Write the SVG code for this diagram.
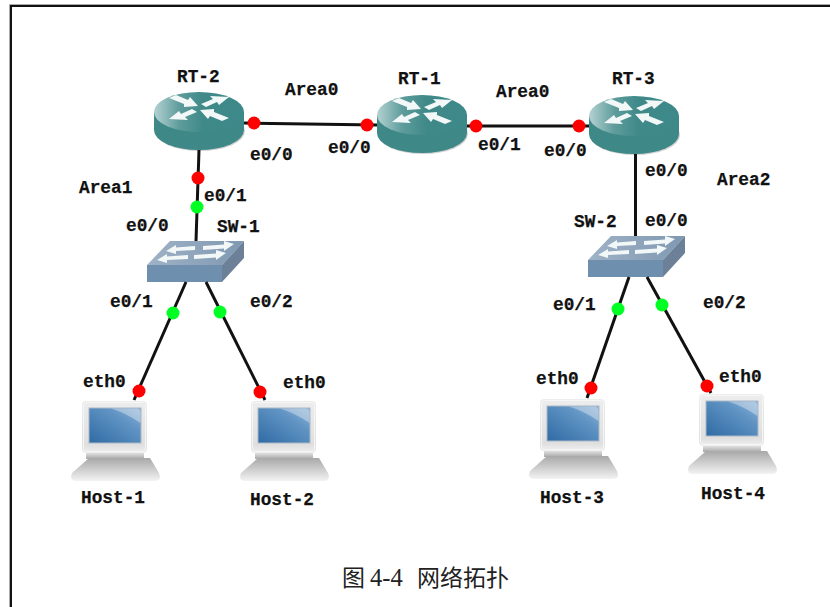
<svg xmlns="http://www.w3.org/2000/svg" width="830" height="607" viewBox="0 0 830 607">
<style>
.t{font-family:"Liberation Mono",monospace;font-weight:700;font-size:17.8px;fill:#111;stroke:#111;stroke-width:.25px}
.cap{font-family:"Liberation Serif","Noto Sans CJK SC",serif;font-size:23px;fill:#222}
.l{stroke:#111;stroke-width:3;fill:none}
.r{fill:#f00}.g{fill:#0f2}
.w{fill:#f2f7f7}
</style>
<defs>
<linearGradient id="rt" x1="0" y1="0" x2="1" y2="0"><stop offset="0" stop-color="#b4d2d2"/><stop offset=".28" stop-color="#5f9c9c"/><stop offset=".55" stop-color="#3f8989"/><stop offset="1" stop-color="#3d8888"/></linearGradient>
<linearGradient id="st" x1="0" y1="0" x2="1" y2="0"><stop offset="0" stop-color="#9fb2c6"/><stop offset="1" stop-color="#7f98b2"/></linearGradient>
<linearGradient id="mon" x1="0" y1="0" x2="0" y2="1"><stop offset="0" stop-color="#ededed"/><stop offset=".85" stop-color="#dfdfdf"/><stop offset="1" stop-color="#f0f0f0"/></linearGradient>
<linearGradient id="scr" x1="0" y1="1" x2="1" y2="0"><stop offset="0" stop-color="#2f6ba4"/><stop offset=".65" stop-color="#5f93c3"/><stop offset="1" stop-color="#8fb3d6"/></linearGradient>
<linearGradient id="kb" x1="0" y1="0" x2="0" y2="1"><stop offset="0" stop-color="#a8a8a8"/><stop offset="1" stop-color="#f3f3f3"/></linearGradient>
<linearGradient id="neck" x1="0" y1="0" x2="0" y2="1"><stop offset="0" stop-color="#e0e0e0"/><stop offset="1" stop-color="#a8a8a8"/></linearGradient>
<g id="router">
<ellipse cx="1" cy="39" rx="45" ry="20" fill="#999" opacity=".45"/>
<path d="M-45 20V38A45 20 0 0 0 45 38V20Z" fill="#3e8888"/>
<ellipse cx="0" cy="20" rx="45" ry="20" fill="url(#rt)"/>
<path class="w" d="M-30 6L-23 3L-11 8L-9 5L-1 14L-15 15L-15 12Z"/>
<path class="w" d="M30 26L23 29L11 24L9 27L1 18L15 17L15 20Z"/>
<path class="w" d="M2 12L14 7L11 4L30 5L20 13L18 10L7 15Z"/>
<path class="w" d="M-2 20L-14 25L-11 28L-30 27L-20 19L-18 22L-7 17Z"/>
</g>
<g id="switch">
<path d="M23 0H97L75 24H0Z" fill="url(#st)"/>
<path d="M0 24H75V41H0Z" fill="#6f8fae"/>
<path d="M75 24L97 0V17L75 41Z" fill="#6c8198"/>
<path class="w" d="M19 10L29 4V6.500L48 5V9L29 10V13Z"/>
<path class="w" d="M87 3L77 10V7.500L56 9V5L77 3.500V0Z"/>
<path class="w" d="M10 19L20 13V15.500L41 14V18L20 19V22Z"/>
<path class="w" d="M79 12L69 19V16.500L47 18V14L69 12.500V9Z"/>
</g>
<g id="host">
<path d="M15 52H73V58H15Z" fill="url(#neck)"/>
<path d="M18 57H79L88 72Q91 80 84 80H5Q-2 80 1 72Z" fill="url(#kb)"/>
<rect x="11" y="0" width="65" height="52" rx="4" fill="url(#mon)"/>
<rect x="12.500" y="1.500" width="62" height="49" rx="3" fill="none" stroke="#f6f6f6"/>
<rect x="18" y="7" width="52" height="35" fill="url(#scr)" stroke="#aab8c6"/>
<path d="M40 7.500H66Q69.500 8 69.500 12V22Q55 12 40 7.500Z" fill="#fff" opacity=".35"/>
</g>
</defs>
<rect width="830" height="607" fill="#fff"/>
<path d="M9.500 607V4.500H830" fill="none" stroke="#aaa"/>
<path d="M11 607V6H830" fill="none" stroke="#111" stroke-width="2"/>

<g id="RT-2"><use href="#router" x="199" y="92"/><text class="t" x="177" y="82">RT-2</text></g>
<g id="RT-1"><use href="#router" x="422" y="95"/><text class="t" x="398" y="84">RT-1</text></g>
<g id="RT-3"><use href="#router" x="634" y="96"/><text class="t" x="612" y="84">RT-3</text></g>
<g id="SW-1"><use href="#switch" x="147" y="241"/><text class="t" x="217" y="232">SW-1</text></g>
<g id="SW-2"><use href="#switch" x="588" y="236"/><text class="t" x="574" y="227">SW-2</text></g>
<g id="Host-1"><use href="#host" x="71" y="401"/><text class="t" x="81" y="503">Host-1</text></g>
<g id="Host-2"><use href="#host" x="240" y="401"/><text class="t" x="250" y="505">Host-2</text></g>
<g id="Host-3"><use href="#host" x="529" y="399"/><text class="t" x="540" y="503">Host-3</text></g>
<g id="Host-4"><use href="#host" x="688" y="394"/><text class="t" x="701" y="499">Host-4</text></g>

<g id="connectors">
<path class="l" d="M244 123L377 125"/>
<path class="l" d="M467 126H589"/>
<path class="l" d="M199 150L196 241"/>
<path class="l" d="M635.500 154V236"/>
<path class="l" d="M186 282L134 400"/>
<path class="l" d="M206 282L265 400"/>
<path class="l" d="M629 277L587 398"/>
<path class="l" d="M647 277L711 393"/>
<circle class="r" cx="254" cy="123" r="6.500"/>
<circle class="r" cx="367" cy="125" r="6.500"/>
<circle class="r" cx="476" cy="126" r="6.500"/>
<circle class="r" cx="579" cy="126" r="6.500"/>
<circle class="r" cx="198" cy="178" r="6.500"/>
<circle class="g" cx="197" cy="207" r="6.500"/>
<circle class="g" cx="173" cy="313" r="6.500"/>
<circle class="g" cx="220" cy="312" r="6.500"/>
<circle class="g" cx="618" cy="309" r="6.500"/>
<circle class="g" cx="662" cy="305" r="6.500"/>
<circle class="r" cx="139" cy="391" r="6.500"/>
<circle class="r" cx="260" cy="392" r="6.500"/>
<circle class="r" cx="591" cy="388" r="6.500"/>
<circle class="r" cx="707" cy="386" r="6.500"/>
</g>
<g id="labels">
<text class="t" x="285" y="95">Area0</text>
<text class="t" x="496" y="97">Area0</text>
<text class="t" x="79" y="193">Area1</text>
<text class="t" x="717" y="185">Area2</text>
<text class="t" x="250" y="160">e0/0</text>
<text class="t" x="328" y="153">e0/0</text>
<text class="t" x="478" y="150">e0/1</text>
<text class="t" x="544" y="156">e0/0</text>
<text class="t" x="645" y="176">e0/0</text>
<text class="t" x="645" y="226">e0/0</text>
<text class="t" x="204" y="201">e0/1</text>
<text class="t" x="126" y="231">e0/0</text>
<text class="t" x="110" y="307">e0/1</text>
<text class="t" x="250" y="307">e0/2</text>
<text class="t" x="553" y="310">e0/1</text>
<text class="t" x="703" y="308">e0/2</text>
<text class="t" x="83" y="387">eth0</text>
<text class="t" x="283" y="388">eth0</text>
<text class="t" x="536" y="384">eth0</text>
<text class="t" x="719" y="382">eth0</text>
</g>
<text class="cap" y="586"><tspan x="342">图</tspan><tspan x="370" font-size="24.5">4-4</tspan><tspan x="417">网络拓扑</tspan></text>
</svg>
